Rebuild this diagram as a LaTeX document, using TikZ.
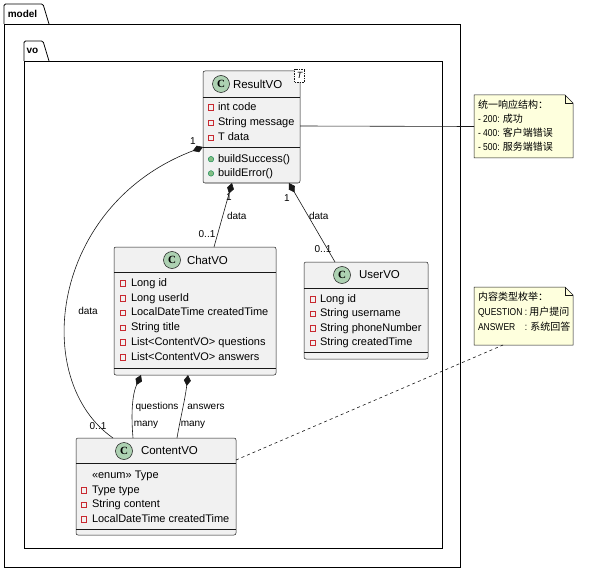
\documentclass[tikz,border=0pt]{standalone}
\usepackage{fontspec}
\setmainfont{Liberation Sans}
\newfontfamily\cjk{Noto Sans CJK SC}
\newfontfamily\notelatin[FakeStretch=0.85]{Liberation Sans}
\newfontfamily\iconfont{Liberation Serif}
\usetikzlibrary{arrows.meta}
\definecolor{boxfill}{HTML}{F1F1F1}
\definecolor{boxline}{HTML}{181818}
\definecolor{iconfill}{HTML}{ADD1B2}
\definecolor{privred}{HTML}{C82930}
\definecolor{pubfill}{HTML}{84BE84}
\definecolor{publine}{HTML}{038048}
\definecolor{notefill}{HTML}{FEFFDD}
\begin{document}
\begin{tikzpicture}[x=1pt, y=-1pt,
        every node/.style={inner sep=0pt, outer sep=0pt},
        pkg/.style={draw=black, line width=0.8pt},
        classbox/.style={draw=boxline, fill=boxfill, line width=0.5pt, rounded corners=2pt, anchor=north west},
        sep/.style={draw=boxline, line width=0.5pt},
        cicon/.style={circle, draw=boxline, fill=iconfill, line width=0.5pt, minimum size=17pt, font=\iconfont\bfseries\fontsize{11}{11}\selectfont},
        cname/.style={anchor=west, font=\fontsize{11.5}{13}\selectfont},
        row/.style={anchor=west, text height=8pt, text depth=2pt, font=\fontsize{11}{13}\selectfont},
        priv/.style={draw=privred, line width=0.6pt, minimum size=5.5pt},
        pub/.style={circle, draw=publine, fill=pubfill, line width=0.4pt, minimum size=5.5pt},
        lbl/.style={font=\fontsize{10}{12}\selectfont},
        link/.style={draw=boxline, line width=0.6pt},
        comp/.style={link, {Diamond[length=11pt,width=7pt]}-},
        notearea/.style={minimum width=99pt, minimum height=#1, anchor=north west},
        notefold/.style={draw=boxline, fill=notefill, line width=0.5pt},
        notetext/.style={anchor=west, text height=7.5pt, text depth=2pt, font=\notelatin\fontsize{10}{12}\selectfont}]
        \useasboundingbox (0,0) rectangle (599,572);

        % packages
        \draw[pkg, rounded corners=1.5pt] (4,24) -- (4,4) -- (43,4) -- (49,24);
        \draw[pkg] (4,24) rectangle (460,567);
        \node[font=\bfseries\fontsize{10}{12}\selectfont] (model) at (22.5,14) {model};
        \draw[pkg, rounded corners=1.5pt] (24,61) -- (24,41) -- (43,41) -- (49,61);
        \draw[pkg] (24,61) rectangle (442,548);
        \node[font=\bfseries\fontsize{10}{12}\selectfont] (vo) at (32.5,51) {vo};

        % ResultVO
        \node[classbox, minimum width=97pt, minimum height=112pt] (result) at (203,71) {};
        \draw[sep] (203,97) -- (300,97);
        \draw[sep] (203,147) -- (300,147);
        \node[cicon] (result-c) at (221,84) {C};
        \node[cname] (result-name) at (233,84) {ResultVO};
        \node[draw=boxline, fill=white, line width=0.4pt, dash pattern=on 1.5pt off 1pt, minimum width=10pt, minimum height=13pt, font=\itshape\fontsize{9}{9}\selectfont] (result-t) at (299.5,75.5) {T};
        \foreach \t [count=\i] in {int code, String message, T data} {
            \node[priv] (result-i\i) at (211,92+15.3*\i) {};
            \node[row] (result-a\i) at (218,92+15.3*\i) {\t};
        }
        \foreach \t [count=\i] in {buildSuccess(), buildError()} {
            \node[pub] (result-p\i) at (211,145+14.2*\i) {};
            \node[row] (result-m\i) at (218,145+14.2*\i) {\t};
        }

        % ChatVO
        \node[classbox, minimum width=162pt, minimum height=128pt] (chat) at (114,247) {};
        \draw[sep] (114,272) -- (276,272);
        \draw[sep] (114,368) -- (276,368);
        \node[cicon] (chat-c) at (172,260) {C};
        \node[cname] (chat-name) at (187,260) {ChatVO};
        \foreach \t [count=\i] in {Long id, Long userId, LocalDateTime createdTime, String title, List<ContentVO> questions, List<ContentVO> answers} {
            \node[priv] (chat-i\i) at (123,268.5+14.8*\i) {};
            \node[row] (chat-a\i) at (131,268.5+14.8*\i) {\t};
        }

        % UserVO
        \node[classbox, minimum width=124pt, minimum height=97pt] (user) at (304,262) {};
        \draw[sep] (304,288) -- (428,288);
        \draw[sep] (304,352) -- (428,352);
        \node[cicon] (user-c) at (342,275) {C};
        \node[cname] (user-name) at (359,275) {UserVO};
        \foreach \t [count=\i] in {Long id, String username, String phoneNumber, String createdTime} {
            \node[priv] (user-i\i) at (313,284.5+14.6*\i) {};
            \node[row] (user-a\i) at (320,284.5+14.6*\i) {\t};
        }

        % ContentVO
        \node[classbox, minimum width=160pt, minimum height=97pt] (content) at (76,438) {};
        \draw[sep] (76,463) -- (236,463);
        \draw[sep] (76,529) -- (236,529);
        \node[cicon] (content-c) at (124,451) {C};
        \node[cname] (content-name) at (141,451) {ContentVO};
        \node[row] (content-e) at (92,475) {«enum» Type};
        \foreach \t [count=\i] in {Type type, String content, LocalDateTime createdTime} {
            \node[priv] (content-i\i) at (84,475.5+14.6*\i) {};
            \node[row] (content-a\i) at (92,475.5+14.6*\i) {\t};
        }

        % notes
        \node[notearea=63pt] (note1) at (474,95) {};
        \draw[notefold] (note1.south west) -- (note1.north west) -- ([xshift=-8pt]note1.north east) -- ([yshift=-8pt]note1.north east) -- (note1.south east) -- cycle;
        \draw[notefold, fill=none] ([xshift=-8pt]note1.north east) -- ([xshift=-8pt,yshift=-8pt]note1.north east) -- ([yshift=-8pt]note1.north east);
        \node[notetext] (note1-a) at (478,105.5) {{\cjk 统一响应结构：}};
        \node[notetext] (note1-b) at (478,119.5) {- 200: {\cjk 成功}};
        \node[notetext] (note1-c) at (478,133.5) {- 400: {\cjk 客户端错误}};
        \node[notetext] (note1-d) at (478,147.5) {- 500: {\cjk 服务端错误}};

        \node[notearea=58pt] (note2) at (474,287) {};
        \draw[notefold] (note2.south west) -- (note2.north west) -- ([xshift=-8pt]note2.north east) -- ([yshift=-8pt]note2.north east) -- (note2.south east) -- cycle;
        \draw[notefold, fill=none] ([xshift=-8pt]note2.north east) -- ([xshift=-8pt,yshift=-8pt]note2.north east) -- ([yshift=-8pt]note2.north east);
        \node[notetext] (note2-a) at (478,298) {{\cjk 内容类型枚举：}};
        \node[notetext] (note2-b) at (478,313) {QUESTION : {\cjk 用户提问}};
        \node[notetext] (note2-c) at (478,328) {\rlap{ANSWER}\phantom{QUESTION} : {\cjk 系统回答}};

        % links
        \draw[comp] ([yshift=-76pt]result.north west) .. controls (50,205) and (30,380) .. ([xshift=37pt]content.north west);
        \node[lbl] (l1-a) at (193,141) {1};
        \node[lbl] (l1-b) at (88,311) {data};
        \node[lbl] (l1-c) at (98,426) {0..1};

        \draw[comp] ([xshift=29pt]result.south west) -- ([xshift=100pt]chat.north west);
        \node[lbl] (l2-a) at (229,197) {1};
        \node[lbl, anchor=west] (l2-b) at (227,216) {data};
        \node[lbl] (l2-c) at (207,234) {0..1};

        \draw[comp] ([xshift=86pt]result.south west) -- ([xshift=31pt]user.north west);
        \node[lbl] (l3-a) at (287,198) {1};
        \node[lbl, anchor=west] (l3-b) at (309,216) {data};
        \node[lbl] (l3-c) at (323,249) {0..1};

        \draw[comp] ([xshift=27pt]chat.south west) .. controls (132,395) and (131,415) .. ([xshift=57pt]content.north west);
        \node[lbl] (l4-a) at (157,407) {questions};
        \node[lbl] (l4-b) at (146,425) {many};

        \draw[comp] ([xshift=74pt]chat.south west) .. controls (185,400) and (180,420) .. ([xshift=101pt]content.north west);
        \node[lbl] (l5-a) at (206,407) {answers};
        \node[lbl] (l5-b) at (193,425) {many};

        \draw[link] ([yshift=-55pt]result.north east) -- (note1.west);
        \draw[link, dashed] ([yshift=-22pt]content.north east) -- ([xshift=29pt]note2.south west);
    \end{tikzpicture}
\end{document}
